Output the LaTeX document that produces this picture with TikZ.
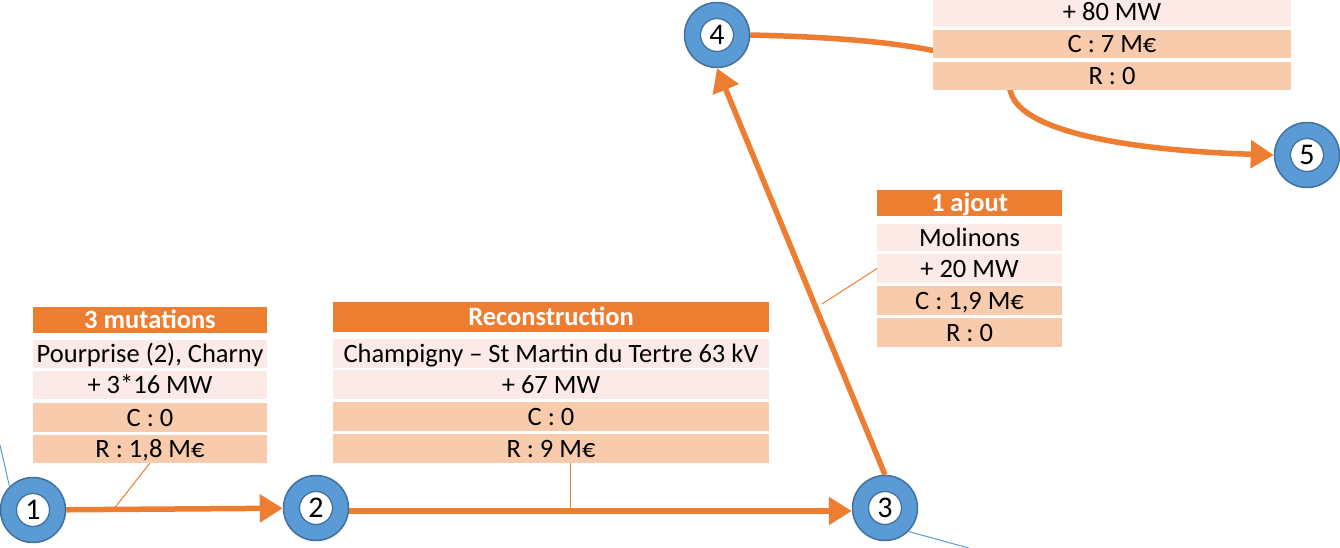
\documentclass[tikz,border=0pt]{standalone}
\usepackage{fontspec}
\setmainfont{Carlito}
\usetikzlibrary{arrows.meta,backgrounds}
\definecolor{hdrC}{HTML}{ED7D31}
\definecolor{lightC}{HTML}{FBEAE5}
\definecolor{darkC}{HTML}{F8CBAD}
\definecolor{connC}{HTML}{ED7D31}
\definecolor{nodeFill}{HTML}{5B9BD5}
\definecolor{nodeEdge}{HTML}{41719C}
\tikzset{
  cell/.style={anchor=north west, inner sep=0pt, outer sep=0pt, text height=17pt, text depth=0pt,
    font=\fontsize{26.5}{30}\selectfont, text=black},
  hdr/.style={cell, fill=hdrC, text=white, font=\fontsize{26.5}{30}\selectfont\bfseries},
  lrow/.style={cell, fill=lightC},
  drow/.style={cell, fill=darkC},
  num/.style={circle, minimum size=65pt, inner sep=0pt, fill=nodeFill, draw=nodeEdge, line width=1.5pt,
    font=\fontsize{30}{32}\selectfont, text height=19pt, text depth=0pt,
    path picture={\draw[fill=white, draw=nodeEdge, line width=1.3pt] (path picture bounding box.center) circle (16.5pt);}},
  conn/.style={draw=connC, line width=5.5pt, -{Triangle[length=23pt,width=27pt]}},
  callout/.style={draw=connC, line width=1pt},
  blueline/.style={draw=nodeFill, line width=1pt},
  boxbg/.style={fill=white},
}
\begin{document}
\begin{tikzpicture}[x=1pt,y=1pt]
\useasboundingbox (0,0) rectangle (1340,-548);
\clip (0,0) rectangle (1340,-548);
% white table backgrounds
\fill[boxbg] (33,-307) rectangle (267,-463);
\fill[boxbg] (333,-302) rectangle (769,-463);
\fill[boxbg] (877,-190) rectangle (1062,-347);
\fill[boxbg] (933,2) rectangle (1291,-90);
% circles
\node[num] (n1) at (33,-510) {1};
\node[num] (n2) at (316,-508) {2};
\node[num] (n3) at (885,-508) {3};
\node[num] (n4) at (717,-35) {4};
\node[num] (n5) at (1307,-155) {5};
% box 1
\node[hdr, minimum width=234pt, minimum height=26pt] (b1h) at (33,-307) {3 mutations};
\node[lrow, minimum width=234pt, minimum height=28pt] (b1r1) at (33,-340) {Pourprise (2), Charny};
\node[lrow, minimum width=234pt, minimum height=28pt] (b1r2) at (33,-371) {+ 3*16 MW};
\node[drow, minimum width=234pt, minimum height=29pt] (b1r3) at (33,-403) {C : 0};
\node[drow, minimum width=234pt, minimum height=28pt] (b1r4) at (33,-435) {R : 1,8 M€};
% box 2
\node[hdr, minimum width=436pt, minimum height=30pt] (b2h) at (333,-302) {Reconstruction};
\node[lrow, minimum width=436pt, minimum height=29pt] (b2r1) at (333,-339) {Champigny – St Martin du Tertre 63 kV};
\node[lrow, minimum width=436pt, minimum height=29pt] (b2r2) at (333,-370) {+ 67 MW};
\node[drow, minimum width=436pt, minimum height=29pt] (b2r3) at (333,-402) {C : 0};
\node[drow, minimum width=436pt, minimum height=29pt] (b2r4) at (333,-434) {R : 9 M€};
% box 3
\node[hdr, minimum width=185pt, minimum height=26pt] (b3h) at (877,-190) {1 ajout};
\node[lrow, minimum width=185pt, minimum height=27pt] (b3r1) at (877,-224) {Molinons};
\node[lrow, minimum width=185pt, minimum height=29pt] (b3r2) at (877,-254) {+ 20 MW};
\node[drow, minimum width=185pt, minimum height=29pt] (b3r3) at (877,-286) {C : 1,9 M€};
\node[drow, minimum width=185pt, minimum height=29pt] (b3r4) at (877,-318) {R : 0};
% box 4
\node[lrow, minimum width=358pt, minimum height=29pt] (b4r1) at (933,2) {+ 80 MW};
\node[drow, minimum width=358pt, minimum height=28pt] (b4r2) at (933,-30) {C : 7 M€};
\node[drow, minimum width=358pt, minimum height=28pt] (b4r3) at (933,-62) {R : 0};
% free ends
\coordinate (c1) at (113,-510);
\coordinate (c2) at (570,-511);
\coordinate (c3) at (822,-304);
\coordinate (via) at (1011,-93);
\coordinate (bl1) at (0,-445);
\coordinate (bl3) at (976,-550);
\begin{pgfonlayer}{background}
\draw[callout] (b1r4.south) -- (c1);
\draw[callout] ([xshift=19pt]b2r4.south) -- (c2);
\draw[callout] (b3r2.west) -- (c3);
\draw[conn] (n1) -- (n2);
\draw[conn] ([yshift=-3pt]n2.east) -- ([yshift=-3pt]n3.west);
\draw[conn] (n3.north) -- (n4.south);
\draw[conn] (n4.east) .. controls (880,-38) and (1000,-50) .. (via) .. controls (1022,-130) and (1120,-150) .. (n5.west);
\draw[blueline] (n1.135) -- (bl1);
\draw[blueline] (n3.-45) -- (bl3);
\end{pgfonlayer}
\end{tikzpicture}
\end{document}
